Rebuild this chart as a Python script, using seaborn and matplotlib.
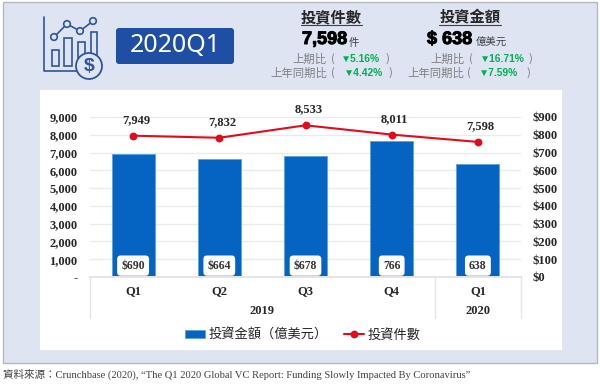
import matplotlib
matplotlib.use("Agg")
import matplotlib.pyplot as plt
from matplotlib.patches import Rectangle, FancyBboxPatch, Circle
from matplotlib.transforms import blended_transform_factory
import matplotlib.patheffects as pe
import pandas as pd
import seaborn as sns

# data
periods = ["2019Q1", "2019Q2", "2019Q3", "2019Q4", "2020Q1"]
quarters = ["Q1", "Q2", "Q3", "Q4", "Q1"]
amount = [690, 664, 678, 766, 638]
amount_labels = ["$690", "$664", "$678", "766", "638"]
deals = [7949, 7832, 8533, 8011, 7598]
deal_ticks = list(range(0, 10000, 1000))
amount_ticks = list(range(0, 1000, 100))
years = ["2019", "2020"]

BLUE = "#0563C1"
RED = "#E00B1C"
DARK = "#2F5597"
GREEN = "#00B050"
GRAY = "#7F7F7F"
CJK = ["Noto Sans CJK TC", "DejaVu Sans"]
SERIF = ["Liberation Serif", "Noto Sans CJK TC"]
HEAVY = ["Liberation Sans"]

sns.set_theme(style="white")
df = pd.DataFrame({"period": periods, "amount": amount, "deals": deals})

fig = plt.figure(figsize=(6, 3.84), dpi=100, facecolor="white")

# background layer, in pixels of the picture
bg = fig.add_axes([0, 0, 1, 1], zorder=0)
bg.set_xlim(0, 600)
bg.set_ylim(384, 0)
bg.axis("off")
bg.add_patch(Rectangle((3, 2), 594, 361, fc="#DFE4F3", ec="#B4B8C0", lw=1))
bg.add_patch(Rectangle((40, 90), 522, 260, fc="white", ec="none"))

# icon
bg.plot([43.5, 43.5, 85], [17, 71, 71], color=DARK, lw=1.2)
for x0, x1, y0, y1 in [(52, 59, 50, 66), (64, 72, 38, 66), (78, 85, 42, 60), (91, 97, 32, 56)]:
    bg.add_patch(Rectangle((x0, y0), x1 - x0, y1 - y0, fc="none", ec=DARK, lw=1.2))
bg.plot([54, 67, 80, 93], [37, 24, 31, 21], color=DARK, lw=1.2)
for cx, cy in [(54, 37), (67, 24), (80, 31), (93, 21)]:
    bg.add_patch(Circle((cx, cy), 3.3, fc="#DFE4F3", ec=DARK, lw=1.2, zorder=3))
bg.add_patch(Circle((89, 66), 13, fc="#DFE4F3", ec=DARK, lw=1.3, zorder=3))
bg.text(89, 66.5, "$", color=DARK, fontsize=14, fontweight="bold", ha="center", va="center",
        family="Liberation Sans", zorder=4)

# badge
bg.add_patch(FancyBboxPatch((119, 31), 112, 30, boxstyle="round,pad=3", fc="#1F4EA5", ec="none"))
bg.text(175, 46, "2020Q1", color="white", fontsize=18, ha="center", va="center", family="Noto Sans")

# header numbers
bold_stroke = [pe.withStroke(linewidth=0.7, foreground="black")]
bg.text(331.5, 17, "投資件數", family=CJK, fontsize=11, fontweight="bold", color="#262626", ha="center", va="center")
bg.plot([301, 362], [24.5, 24.5], color="#404040", lw=0.8)
bg.text(470, 17, "投資金額", family=CJK, fontsize=11, fontweight="bold", color="#262626", ha="center", va="center")
bg.plot([439, 501], [24.5, 24.5], color="#404040", lw=0.8)
bg.text(302, 39.5, "7,598", family=HEAVY, fontsize=13, fontweight="bold", color="black", ha="left", va="center",
        path_effects=bold_stroke)
bg.text(349, 43, "件", family=CJK, fontsize=7.5, color="#404040", ha="left", va="center")
bg.text(427, 39.5, "$ 638", family=HEAVY, fontsize=13, fontweight="bold", color="black", ha="left", va="center",
        path_effects=bold_stroke)
bg.text(476, 43, "億美元", family=CJK, fontsize=7.5, color="#404040", ha="left", va="center")

# comparison rows: label, open bracket, value, close bracket with their left edges
rows = [
    ("上期比", 292, 59, 331, "▼5.16%", 341, 385),
    ("上年同期比", 270, 73, 331, "▼4.42%", 344, 388),
    ("上期比", 430, 59, 469, "▼16.71%", 480, 528),
    ("上年同期比", 407, 73, 467, "▼7.59%", 479, 526),
]
for label, x, y, xb, value, xv, xe in rows:
    bg.text(x, y, label, family=CJK, fontsize=8.2, color=GRAY, ha="left", va="center")
    bg.text(xb, y, "(", family=CJK, fontsize=8.2, color=GRAY, ha="left", va="center")
    bg.text(xv, y, value, family=HEAVY, fontsize=7.4, fontweight="bold", color=GREEN, ha="left", va="center")
    bg.text(xe, y, ")", family=CJK, fontsize=8.2, color=GRAY, ha="left", va="center")

bg.text(3, 374, "資料來源：Crunchbase (2020), “The Q1 2020 Global VC Report: Funding Slowly Impacted By Coronavirus”",
        family=SERIF, fontsize=7.6, color="#404040", ha="left", va="center")

# chart: bars on the right scale, line on the left scale
ax = fig.add_axes([90 / 600, (384 - 277) / 384, 431 / 600, 160 / 384], zorder=1)
ax2 = ax.twinx()
ax.set_zorder(ax2.get_zorder() + 1)
ax.patch.set_visible(False)
ax2.patch.set_visible(False)

sns.barplot(data=df, x="period", y="amount", ax=ax2, color=BLUE, saturation=1, width=0.5,
            label="投資金額（億美元）", edgecolor="#5BA3E0", linewidth=0.6, zorder=2)
sns.pointplot(data=df, x="period", y="deals", ax=ax, color=RED, markersize=4.5, linewidth=1.5,
              label="投資件數", errorbar=None, zorder=3)

ax.set_xlim(-0.5, 4.5)
ax.set_ylim(0, 9000)
ax2.set_ylim(0, 900)
ax.set_xlabel("")
ax.set_ylabel("")
ax2.set_xlabel("")
ax2.set_ylabel("")
ax.set_yticks(deal_ticks)
ax.set_yticklabels(["-"] + [f"{v:,}" for v in deal_ticks[1:]])
ax2.set_yticks(amount_ticks)
ax2.set_yticklabels([f"${v}" for v in amount_ticks])
ax2.grid(axis="y", color="#E9ECEF", lw=1)
ax2.set_axisbelow(True)
ax.set_xticks(range(len(quarters)))
ax.set_xticklabels(quarters)
ax2.tick_params(axis="x", bottom=False, labelbottom=False)
ax.tick_params(axis="x", length=0, pad=6)
ax.tick_params(axis="y", length=0, pad=9)
ax2.tick_params(axis="y", length=0, pad=8)
for a in (ax, ax2):
    for side in ("top", "left", "right"):
        a.spines[side].set_visible(False)
    a.spines["bottom"].set_color("#E3E5E8")
    for t in a.get_xticklabels() + a.get_yticklabels():
        t.set_family(SERIF)
        t.set_fontweight("bold")
        t.set_fontsize(9)
        t.set_color("#262626")

for i, v in enumerate(deals):
    ax.annotate(f"{v:,}", (i, v), xytext=(2, 7), textcoords="offset points", ha="center", va="bottom",
                family=SERIF, fontweight="bold", fontsize=9, color="#262626")

for i, s in enumerate(amount_labels):
    ax.text(i, 640, s, ha="center", va="center", family=SERIF, fontweight="bold", fontsize=8.5, color="#333333",
            bbox=dict(boxstyle="round,pad=0.35,rounding_size=0.3", fc="white", ec="none"))

# two level category axis
trans = blended_transform_factory(ax.transData, ax.transAxes)
for x in (-0.5, 3.5, 4.5):
    ax.plot([x, x], [0, -0.255], transform=trans, color="#E3E5E8", lw=1, clip_on=False)
for x, year in zip((1.5, 4), years):
    ax.text(x, -0.215, year, transform=trans, ha="center", va="center", family=SERIF,
            fontweight="bold", fontsize=9, color="#262626")

h1, l1 = ax2.get_legend_handles_labels()
h2, l2 = ax.get_legend_handles_labels()
for a in (ax, ax2):
    if a.get_legend():
        a.get_legend().remove()
fig.legend(h1 + h2, l1 + l2, ncol=2, loc="center", bbox_to_anchor=(303 / 600, (384 - 335) / 384), frameon=False,
           prop={"family": CJK, "size": 9.5}, labelcolor="#262626", handlelength=1.5, handleheight=0.55,
           handletextpad=0.3, columnspacing=1.2, borderpad=0)

fig.savefig("out.png", dpi=100, facecolor="white")
